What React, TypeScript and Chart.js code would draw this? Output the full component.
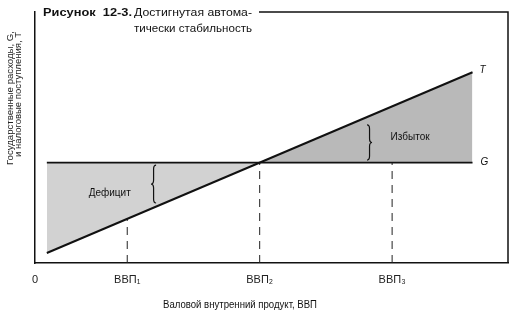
import React, { useEffect, useRef } from 'react';
import { Chart, registerables } from 'chart.js';

Chart.register(...registerables);

// ---- data ----
const gdpTickValues = [0, 19.5, 47.5, 75.5];
const gdpTickLabels = ['0', 'ВВП₁', 'ВВП₂', 'ВВП₃'];
const lineX = [2.5, 92.5];
const govSpending = [40, 40]; // G
const taxRevenue = [4, 76]; // T
const dashedX = [19.5, 47.5, 75.5];
const dashedTop = [17.6, 40, 40];
const seriesNames = ['G', 'T'];
const regionLabels = ['Дефицит', 'Избыток'];
const regionLabelX = [15.8, 79.3];
const regionLabelY = [27.9, 50.2];
const braceX = [25.6, 70.2];
const braceTop = [39, 55];
const braceBottom = [23.9, 41];
const braceDir = [-1, 1];

const FONT = "'Liberation Sans', Arial, sans-serif";
const NARROW = "'Liberation Sans Narrow', 'Liberation Sans', Arial, sans-serif";

function fitText(ctx: CanvasRenderingContext2D, text: string, x: number, y: number, width: number) {
  const w = ctx.measureText(text).width;
  ctx.save();
  ctx.translate(x, y);
  ctx.scale(width / w, 1);
  ctx.fillText(text, 0, 0);
  ctx.restore();
}

function drawBrace(ctx: CanvasRenderingContext2D, x: number, y1: number, y2: number, dir: number) {
  const w = 5 * dir;
  const r = 4;
  const ym = (y1 + y2) / 2;
  ctx.beginPath();
  ctx.moveTo(x, y1);
  ctx.quadraticCurveTo(x + w / 2, y1, x + w / 2, y1 + r);
  ctx.lineTo(x + w / 2, ym - r);
  ctx.quadraticCurveTo(x + w / 2, ym, x + w, ym);
  ctx.quadraticCurveTo(x + w / 2, ym, x + w / 2, ym + r);
  ctx.lineTo(x + w / 2, y2 - r);
  ctx.quadraticCurveTo(x + w / 2, y2, x, y2);
  ctx.stroke();
}

const decorPlugin = {
  id: 'decor',
  afterDraw(chart: any) {
    const { ctx, chartArea, scales } = chart;
    const xs = scales.x;
    const ys = scales.y;
    ctx.save();
    // frame top & right
    ctx.strokeStyle = '#111';
    ctx.lineWidth = 1.5;
    ctx.beginPath();
    ctx.moveTo(259, chartArea.top);
    ctx.lineTo(chartArea.right, chartArea.top);
    ctx.lineTo(chartArea.right, chartArea.bottom);
    ctx.stroke();

    ctx.fillStyle = '#111';
    // title
    ctx.textBaseline = 'alphabetic';
    ctx.textAlign = 'left';
    ctx.font = `bold 11.5px ${FONT}`;
    fitText(ctx, 'Рисунок  12-3.', 43, 15.5, 89);
    ctx.font = `11px ${FONT}`;
    fitText(ctx, 'Достигнутая автома-', 134, 15.5, 118);
    fitText(ctx, 'тически стабильность', 134, 31.5, 118);

    // y title (rotated), reads bottom to top
    ctx.font = `9.5px ${FONT}`;
    ctx.fillStyle = '#222';
    ctx.save();
    ctx.translate(13, 165);
    ctx.rotate(-Math.PI / 2);
    fitText(ctx, 'Государственные расходы, G,', 0, 0, 134);
    ctx.restore();
    ctx.save();
    ctx.translate(20.5, 157);
    ctx.rotate(-Math.PI / 2);
    fitText(ctx, 'и налоговые поступления, T', 0, 0, 125);
    ctx.restore();

    // x title
    ctx.fillStyle = '#111';
    ctx.font = `10px ${FONT}`;
    ctx.textAlign = 'left';
    ctx.textBaseline = 'middle';
    fitText(ctx, 'Валовой внутренний продукт, ВВП', 163, 305, 154);

    // series labels
    ctx.font = `italic 10px ${FONT}`;
    ctx.textAlign = 'left';
    ctx.fillText(seriesNames[1], xs.getPixelForValue(lineX[1]) + 7, ys.getPixelForValue(taxRevenue[1]) - 2);
    ctx.fillText(seriesNames[0], xs.getPixelForValue(lineX[1]) + 8, ys.getPixelForValue(govSpending[1]));

    // region labels
    ctx.font = `10px ${NARROW}`;
    ctx.textAlign = 'center';
    for (let i = 0; i < regionLabels.length; i++) {
      ctx.fillText(regionLabels[i], xs.getPixelForValue(regionLabelX[i]), ys.getPixelForValue(regionLabelY[i]));
    }

    // braces
    ctx.strokeStyle = '#111';
    ctx.lineWidth = 1.2;
    for (let i = 0; i < braceX.length; i++) {
      drawBrace(ctx, xs.getPixelForValue(braceX[i]), ys.getPixelForValue(braceTop[i]), ys.getPixelForValue(braceBottom[i]), braceDir[i]);
    }
    ctx.restore();
  },
};

export default function App() {
  const ref = useRef<HTMLCanvasElement | null>(null);
  useEffect(() => {
    document.body.style.margin = '0';
    const canvas = ref.current!;
    const lineData = (ys: number[]) => lineX.map((x, i) => ({ x, y: ys[i] }));
    const dashedSets = dashedX.map((x, i) => ({
      label: 'dash' + i,
      data: [{ x, y: 0 }, { x, y: dashedTop[i] }],
      borderColor: '#222',
      borderWidth: 1,
      borderDash: [8, 6],
      pointRadius: 0,
      fill: false,
    }));
    const chart = new Chart(canvas, {
      type: 'line',
      data: {
        datasets: [
          {
            label: seriesNames[0],
            data: lineData(govSpending),
            borderColor: '#111',
            borderWidth: 1.8,
            pointRadius: 0,
            fill: { target: 1, above: '#d2d2d2', below: '#b9b9b9' },
          },
          {
            label: seriesNames[1],
            data: lineData(taxRevenue),
            borderColor: '#111',
            borderWidth: 2,
            pointRadius: 0,
            fill: false,
          },
          ...dashedSets,
        ] as any,
      },
      plugins: [decorPlugin],
      options: {
        responsive: false,
        animation: false,
        events: [],
        layout: { padding: { top: 12, right: 3, left: 0, bottom: 0 } },
        plugins: {
          legend: { display: false },
          tooltip: { enabled: false },
          title: { display: false },
          filler: { drawTime: 'beforeDatasetsDraw' },
        } as any,
        scales: {
          x: {
            type: 'linear',
            min: 0,
            max: 100,
            grid: { display: false, drawTicks: false },
            border: { display: true, color: '#111', width: 1.5 },
            afterBuildTicks: (axis: any) => {
              axis.ticks = gdpTickValues.map((v) => ({ value: v }));
            },
            afterFit: (s: any) => {
              s.height = 53;
            },
            ticks: {
              autoSkip: false,
              maxRotation: 0,
              padding: 10,
              color: '#222',
              font: { family: NARROW, size: 11 },
              callback: (v: any) => gdpTickLabels[gdpTickValues.indexOf(Number(v))] ?? '',
            },
          },
          y: {
            type: 'linear',
            min: 0,
            max: 100,
            grid: { display: false, drawTicks: false },
            border: { display: true, color: '#111', width: 1.5 },
            ticks: { display: false },
            afterFit: (s: any) => {
              s.width = 35;
            },
          },
        },
      } as any,
    });
    return () => chart.destroy();
  }, []);
  return (
    <div style={{ position: 'absolute', left: 0, top: 0, width: 511, height: 316 }}>
      <canvas ref={ref} width={511} height={316} style={{ display: 'block', width: 511, height: 316 }} />
    </div>
  );
}
